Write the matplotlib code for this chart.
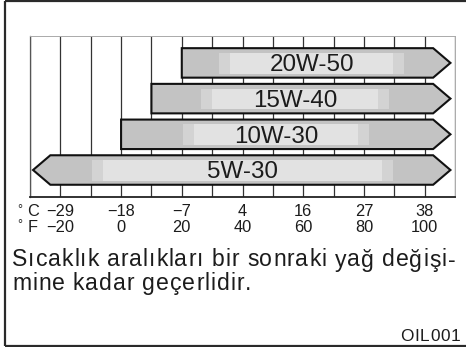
import matplotlib
matplotlib.use("Agg")
import matplotlib.pyplot as plt
from matplotlib.patches import Polygon, Rectangle
from matplotlib import transforms
from matplotlib.font_manager import FontProperties

plt.rcParams['font.family'] = ['Liberation Sans', 'DejaVu Sans']

# oil grades, bottom row first
grades = ['5W-30', '10W-30', '15W-40', '20W-50']
low_f = [-29, 0, 10, 20]            # lower limit of each range, degF
open_low = [True, False, False, False]
high_f = [108.5, 108.5, 108.5, 108.5]  # all ranges run off the top of the scale
glow = [(-6, 86), (24, 78), (30, 84.5), (36, 89.5)]  # light band inside each bar

temp_f = [-20, 0, 20, 40, 60, 80, 100]
temp_c = [-29, -18, -7, 4, 16, 27, 38]

caption = ["Sıcaklık aralıkları bir sonraki yağ değişi-",
           "mine kadar geçerlidir."]
code = "OIL001"

W, H = 466, 347
fig = plt.figure(figsize=(W / 100, H / 100), dpi=100)

# page layer in pixel units
bg = fig.add_axes([0, 0, 1, 1])
bg.set_xlim(0, W)
bg.set_ylim(H, 0)
bg.axis('off')
ink = '#1c1c1c'
bg.plot([4.5, 4.5], [1, 345.5], color='#2a2a2a', lw=1.6, solid_capstyle='butt')
bg.plot([4.5, W], [1, 1], color='#2a2a2a', lw=1.6, solid_capstyle='butt')
bg.plot([4.5, W], [345.5, 345.5], color='#2a2a2a', lw=1.6, solid_capstyle='butt')

ax = fig.add_axes([30 / W, 1 - 197 / H, 425 / W, 161 / H])
ax.set_xlim(-30, 110)
ax.set_ylim(-0.756, 3.754)
ax.set_xticks(range(-30, 111, 10))
ax.set_yticks([])
ax.tick_params(axis='x', length=0, labelbottom=False)
ax.grid(axis='x', color='#333333', lw=0.9)
ax.set_axisbelow(True)
for side, col, lw in [('left', '#555555', 0.9), ('bottom', '#222222', 1.3),
                      ('top', '#aaaaaa', 0.7), ('right', '#aaaaaa', 0.7)]:
    ax.spines[side].set_color(col)
    ax.spines[side].set_linewidth(lw)


def spaced_text(x, y, s, size, track, align='left'):
    prop = FontProperties(family=['Liberation Sans', 'DejaVu Sans'], size=size)
    r = fig.canvas.get_renderer()
    full = r.get_text_width_height_descent(s, prop, ismath=False)[0] + (len(s) - 1) * track
    if align == 'right':
        x -= full
    elif align == 'center':
        x -= full / 2
    for k, ch in enumerate(s):
        if ch == ' ':
            continue
        w = r.get_text_width_height_descent(s[:k], prop, ismath=False)[0] if k else 0
        bg.text(x + w + k * track, y, ch, fontproperties=prop, ha='left',
                va='baseline', color=ink, zorder=6)


head = 5.7
hh = 0.413
for i, g in enumerate(grades):
    lo, hi = low_f[i], high_f[i]
    if open_low[i]:
        left = [(lo + head, i - hh), (lo, i), (lo + head, i + hh)]
    else:
        left = [(lo, i - hh), (lo, i + hh)]
    right = [(hi - head, i + hh), (hi, i), (hi - head, i - hh)]
    ax.add_patch(Polygon(left + right, closed=True, facecolor='#c3c3c3',
                         edgecolor='#111111', lw=1.5, joinstyle='miter', zorder=3))
    g0, g1 = glow[i]
    ax.add_patch(Rectangle((g0 - 3.6, i - hh + 0.11), g1 - g0 + 7.2, 2 * hh - 0.24,
                           facecolor='#d3d3d3', lw=0, zorder=4))
    ax.add_patch(Rectangle((g0, i - hh + 0.11), g1 - g0, 2 * hh - 0.24,
                           facecolor='#e2e2e2', lw=0, zorder=4))
    lab = transforms.offset_copy(ax.transData, fig=fig, x=0, y=-8.3, units='dots')
    ax.text((g0 + g1) / 2, i, g, transform=lab, ha='center', va='baseline',
            fontsize=17.4, color=ink, zorder=5)

# temperature scale under the chart
xa = transforms.blended_transform_factory(ax.transData, ax.transAxes)
row_c = transforms.offset_copy(xa, fig=fig, y=-19.3, units='dots')
row_f = transforms.offset_copy(xa, fig=fig, y=-34.8, units='dots')
for c, f in zip(temp_c, temp_f):
    ax.text(f, 0, str(c).replace('-', '\u2212'), transform=row_c, ha='center',
            va='baseline', fontsize=11.8, color=ink, clip_on=False)
    ax.text(f, 0, str(f).replace('-', '\u2212'), transform=row_f, ha='center',
            va='baseline', fontsize=11.8, color=ink, clip_on=False)
for y, unit in [(216.3, 'C'), (231.8, 'F')]:
    bg.text(17.5, y - 3.5, '°', ha='left', va='baseline', fontsize=9, color=ink)
    bg.text(27.5, y, unit, ha='left', va='baseline', fontsize=11.8, color=ink)

spaced_text(12, 266.5, caption[0], 16.6, 0.95)
spaced_text(12, 290, caption[1], 16.6, 0.95)
spaced_text(460, 341, code, 12.4, 0.6, align='right')

fig.savefig('out.png', dpi=100)
